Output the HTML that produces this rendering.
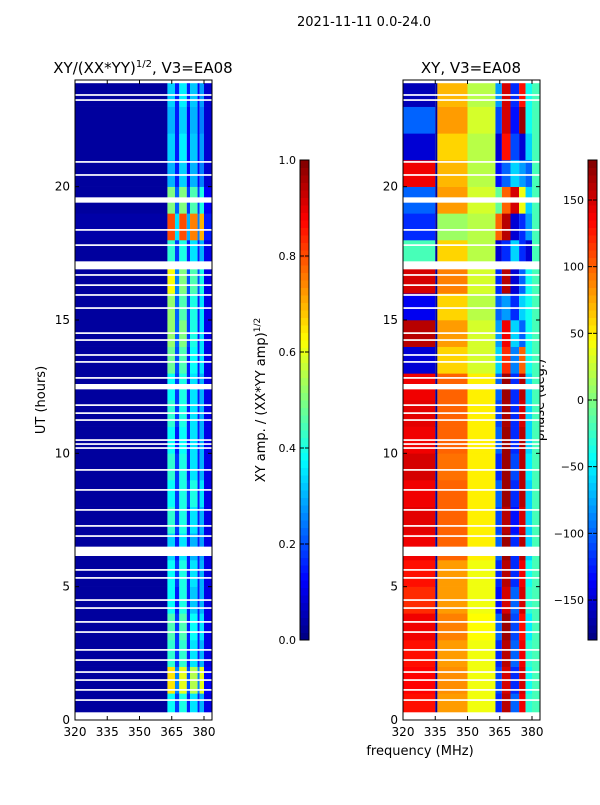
<!DOCTYPE html>
<html><head><meta charset="utf-8">
<style>
body{margin:0;background:#fff;}
svg{font-family:"DejaVu Sans","Liberation Sans",sans-serif;}
</style></head>
<body>
<svg id="fig" width="600" height="800" xmlns="http://www.w3.org/2000/svg">
<rect width="600" height="800" fill="#fff"/>
<text x="364" y="26" font-size="13" text-anchor="middle">2021-11-11 0.0-24.0</text>
<text x="143" y="73" font-size="15" text-anchor="middle">XY/(XX*YY)<tspan font-size="10" dy="-6">1/2</tspan><tspan dy="6">, V3=EA08</tspan></text>
<text x="471" y="73" font-size="15" text-anchor="middle">XY, V3=EA08</text>
<text transform="translate(45,400) rotate(-90)" font-size="13" text-anchor="middle">UT (hours)</text>
<text transform="translate(265,400) rotate(-90)" font-size="13" text-anchor="middle">XY amp. / (XX*YY amp)<tspan font-size="9" dy="-5">1/2</tspan></text>
<text transform="translate(544,400) rotate(-90)" font-size="13" text-anchor="middle">phase (deg.)</text>
<text x="420" y="755" font-size="13" text-anchor="middle">frequency (MHz)</text>
<g id="g"></g>
</svg>
<script>
const ampFreqEdges=[320,363,366.5,368.5,372,373.5,377,378,380,384];
const ampRows=[
[0.03,0.38,0.18,0.4,0.15,0.35,0.15,0.3,0.1],
[0.03,0.65,0.25,0.6,0.2,0.55,0.25,0.6,0.12],
[0.03,0.42,0.18,0.42,0.15,0.35,0.15,0.3,0.1],
[0.03,0.45,0.18,0.45,0.15,0.38,0.15,0.35,0.1],
[0.03,0.38,0.15,0.4,0.15,0.32,0.15,0.3,0.1],
[0.03,0.38,0.18,0.4,0.15,0.35,0.15,0.3,0.1],
[0.03,0.33,0.15,0.35,0.15,0.3,0.15,0.28,0.1],
[0.03,0.42,0.18,0.4,0.15,0.35,0.15,0.3,0.1],
[0.03,0.38,0.18,0.4,0.18,0.4,0.15,0.35,0.1],
[0.03,0.42,0.18,0.4,0.15,0.35,0.15,0.3,0.1],
[0.03,0.38,0.15,0.38,0.15,0.35,0.15,0.3,0.1],
[0.03,0.42,0.18,0.4,0.15,0.35,0.15,0.3,0.1],
[0.03,0.38,0.18,0.4,0.15,0.35,0.15,0.3,0.1],
[0.03,0.48,0.2,0.45,0.15,0.38,0.15,0.35,0.1],
[0.03,0.52,0.22,0.5,0.18,0.4,0.15,0.35,0.1],
[0.03,0.52,0.22,0.45,0.18,0.4,0.15,0.35,0.1],
[0.03,0.62,0.25,0.5,0.2,0.45,0.2,0.4,0.1],
[0.03,0.42,0.18,0.4,0.15,0.35,0.15,0.3,0.1],
[0.04,0.8,0.35,0.8,0.3,0.75,0.25,0.7,0.15],
[0.03,0.5,0.22,0.5,0.18,0.45,0.18,0.4,0.12],
[0.03,0.3,0.15,0.33,0.12,0.3,0.12,0.25,0.08],
[0.03,0.33,0.15,0.36,0.12,0.32,0.12,0.28,0.08],
[0.03,0.3,0.15,0.33,0.12,0.3,0.12,0.25,0.08],
[0.03,0.33,0.15,0.36,0.15,0.32,0.12,0.28,0.08]];
const phaseFreqEdges=[320,335,336,350,363,366,370,374,377,380,384];
const phaseRows=[
[130,-170,80,40,-120,160,-100,140,-30,-20],
[135,-170,85,40,-110,150,-120,150,-40,-20],
[130,-170,80,40,-120,160,-100,140,-30,-20],
[140,-170,90,45,-100,170,-110,130,-50,-20],
[120,-170,80,40,-130,150,-100,150,-30,-20],
[130,-170,80,40,-120,160,-120,140,-40,-20],
[140,-170,100,50,-100,170,-120,160,-60,-20],
[145,-170,100,50,-110,160,-130,150,-60,-20],
[140,-170,100,50,-100,170,-120,160,-60,-20],
[150,-170,95,50,-120,170,-110,160,-50,-20],
[140,-170,100,50,-100,170,-120,160,-60,-20],
[145,-170,100,50,-110,165,-120,150,-60,-20],
[140,-170,100,50,-100,170,-120,160,-60,-20],
[-150,-170,60,30,-60,120,-90,100,-40,-20],
[160,-170,80,30,-80,140,-60,-100,-40,-20],
[-140,-170,60,20,-100,-80,-120,-60,-40,-20],
[150,-170,90,30,-120,160,-150,-100,-40,-20],
[-20,-170,60,20,-150,-120,-60,-120,-150,-20],
[-120,-170,10,20,100,160,-150,-120,-80,-20],
[-100,-170,80,30,-10,100,150,40,-60,-20],
[140,-170,70,20,-130,-100,-60,-80,-100,-20],
[-150,-170,60,20,-150,130,-110,-150,-60,-20],
[-100,-170,80,30,-110,150,-130,170,-40,-20],
[-160,-170,70,20,-80,150,-120,130,-40,-20]];
const gapStarts=[6.15,12.4,16.9,19.4];
const gapEnds=[6.5,12.6,17.2,19.6];
const thinGaps=[23.44,23.25,20.93,20.44,18.38,17.81,16.69,16.31,15.94,15.45,14.51,14.25,13.69,13.43,12.83,11.81,11.51,11.25,10.5,10.35,10.2,9.38,8.63,7.88,7.28,6.9,5.63,5.33,4.5,4.2,3.68,3.3,2.63,2.25,1.8,1.5,1.13,0.75];
const xTicks=[320,335,350,365,380];
const yTicks=[0,5,10,15,20];
const ampTicks=[0.0,0.2,0.4,0.6,0.8,1.0];
const phaseTicks=[-150,-100,-50,0,50,100,150];
const dataStart=0.3, dataEnd=23.88;

const NS="http://www.w3.org/2000/svg";
const g=document.getElementById('g');
function el(t,a,p){const e=document.createElementNS(NS,t);for(const k in a)e.setAttribute(k,a[k]);(p||g).appendChild(e);return e;}
function jet(v){v=Math.max(0,Math.min(1,v));
 const r=Math.max(0,Math.min(1,1.5-Math.abs(4*v-3))),gg=Math.max(0,Math.min(1,1.5-Math.abs(4*v-2))),b=Math.max(0,Math.min(1,1.5-Math.abs(4*v-1)));
 return `rgb(${Math.round(r*255)},${Math.round(gg*255)},${Math.round(b*255)})`;}
const yTop=80,yBot=720;
function yScale(h){return yBot-(h/24)*(yBot-yTop);}
function makeX(x0){return f=>x0+(f-320)*(129/60);}
const panels=[{x0:75,name:'amp',edges:ampFreqEdges,rows:ampRows,norm:v=>v},
 {x0:403,name:'phase',edges:phaseFreqEdges,rows:phaseRows,norm:v=>(v+180)/360}];
panels.forEach(p=>{
 const xs=makeX(p.x0);const x1=p.x0+137;
 const grp=el('g',{});
 
 
 p.rows.forEach((row,h)=>{
  const t0=Math.max(h,dataStart),t1=Math.min(h+1,dataEnd);
  row.forEach((v,i)=>{
   const xa=xs(p.edges[i]),xb=Math.min(xs(p.edges[i+1]),x1);
   const r=el('rect',{x:xa,y:yScale(t1),width:xb-xa,height:yScale(t0)-yScale(t1)+0.3,fill:jet(p.norm(v))},grp);
   
   
  });
 });
 gapStarts.forEach((s,i)=>{el('rect',{x:p.x0,y:yScale(gapEnds[i]),width:137,height:yScale(s)-yScale(gapEnds[i]),fill:'#fff'},grp);});
 thinGaps.forEach(t=>{el('rect',{x:p.x0,y:yScale(t)-0.8,width:137,height:1.7,fill:'#fff'},grp);});
 const fr=el('rect',{x:p.x0,y:yTop,width:137,height:yBot-yTop,fill:'none',stroke:'#000','stroke-width':1});
 
 
 xTicks.forEach(t=>{const x=xs(t);
  el('line',{x1:x,x2:x,y1:yBot,y2:yBot-4,stroke:'#000'});el('line',{x1:x,x2:x,y1:yTop,y2:yTop+4,stroke:'#000'});
  const tx=el('text',{x:x,y:yBot+16,'font-size':12,'text-anchor':'middle'});tx.textContent=t;
  
  });
 yTicks.forEach(t=>{const y=yScale(t);
  el('line',{x1:p.x0,x2:p.x0+4,y1:y,y2:y,stroke:'#000'});el('line',{x1:x1,x2:x1-4,y1:y,y2:y,stroke:'#000'});
  const tx=el('text',{x:p.x0-5,y:y+4,'font-size':12,'text-anchor':'end'});tx.textContent=t;
  
  });
});
function colorbar(x,name,ticks,lo,hi,fmt){
 const cy0=160,cy1=640,n=64;
 const grp=el('g',{});
 
 
 for(let i=0;i<n;i++){el('rect',{x:x,y:cy1-(i+1)*(cy1-cy0)/n,width:9,height:(cy1-cy0)/n+0.5,fill:jet((i+0.5)/n)},grp);}
 el('rect',{x:x,y:cy0,width:9,height:cy1-cy0,fill:'none',stroke:'#000'},grp);
 ticks.forEach(t=>{const y=cy1-(t-lo)/(hi-lo)*(cy1-cy0);
  el('line',{x1:x+9,x2:x+5,y1:y,y2:y,stroke:'#000'},grp);
  el('line',{x1:x,x2:x+4,y1:y,y2:y,stroke:'#000'},grp);
  const tx=el('text',{x:x-4,y:y+4,'font-size':11,'text-anchor':'end'},grp);tx.textContent=fmt(t);
  
  });
}
colorbar(300,'amp-colorbar',ampTicks,0,1,t=>t.toFixed(1));
colorbar(588,'phase-colorbar',phaseTicks,-180,180,t=>t<0?'\u2212'+(-t):''+t);
</script>
</body></html>
